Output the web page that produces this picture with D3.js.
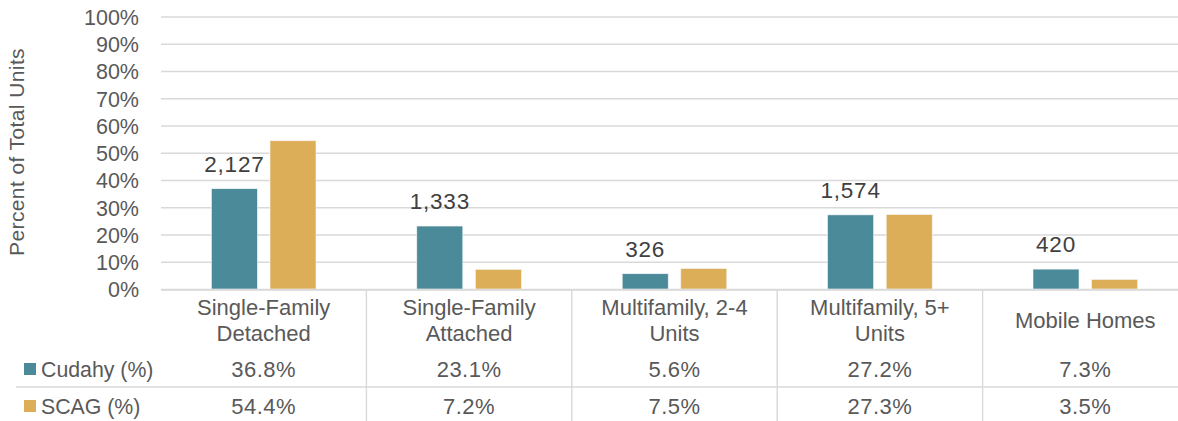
<!DOCTYPE html>
<html>
<head>
<meta charset="utf-8">
<script src="https://cdn.jsdelivr.net/npm/d3@7"></script>
<style>
  html, body { margin: 0; padding: 0; background: #fff; }
  svg { display: block; font-family: "Liberation Sans", Arial, sans-serif; }
</style>
</head>
<body>
<svg id="chart" width="1178" height="421"></svg>
<script>
const categories = [["Single-Family", "Detached"], ["Single-Family", "Attached"], ["Multifamily, 2-4", "Units"], ["Multifamily, 5+", "Units"], ["Mobile Homes"]];
const seriesNames = ["Cudahy (%)", "SCAG (%)"];
const cudahy = [36.8, 23.1, 5.6, 27.2, 7.3];
const scag = [54.4, 7.2, 7.5, 27.3, 3.5];
const unitCounts = ["2,127", "1,333", "326", "1,574", "420"];
const yTicks = [0, 10, 20, 30, 40, 50, 60, 70, 80, 90, 100];

const colors = ["#4a8a99", "#dcae57"];
const textColor = "#595959";
const gridColor = "#d9d9d9";

const svg = d3.select("#chart");
const W = 1178, H = 421;
svg.append("rect").attr("width", W).attr("height", H).attr("fill", "#fff");

const catIdx = d3.range(categories.length);
const x0 = d3.scaleBand().domain(catIdx).range([161, 1188]).paddingInner(0).paddingOuter(0);
const bw = x0.bandwidth();
const groupW = 104.6;
const x1 = d3.scaleBand().domain([0, 1]).range([bw / 2 - groupW / 2, bw / 2 + groupW / 2]).paddingInner(0.215).paddingOuter(0);
const y = d3.scaleLinear().domain([0, 100]).range([289, 16.5]);

// gridlines
const yAxis = d3.axisLeft(y).tickValues(yTicks).tickSize(-(1188 - 161)).tickFormat(d => d + "%").tickPadding(22);
const gAxis = svg.append("g").attr("transform", "translate(161,0)").call(yAxis);
gAxis.select(".domain").remove();
gAxis.selectAll(".tick line").attr("stroke", gridColor).attr("stroke-width", 1.4);
gAxis.selectAll(".tick text").attr("fill", textColor).style("font-size", "21.5px").style("font-family", "Liberation Sans, Arial, sans-serif").attr("dy", "0.36em");

// y axis title
svg.append("text")
  .attr("transform", "translate(24,152) rotate(-90)")
  .attr("text-anchor", "middle")
  .attr("fill", textColor)
  .style("font-size", "21px")
  .style("letter-spacing", "0.4px")
  .text("Percent of Total Units");

// bars
const data = catIdx.map(i => [cudahy[i], scag[i]]);
const groups = svg.append("g").selectAll("g").data(data).join("g")
  .attr("transform", (d, i) => `translate(${x0(i)},0)`);
groups.selectAll("rect").data(d => d).join("rect")
  .attr("x", (d, j) => x1(j))
  .attr("width", x1.bandwidth())
  .attr("y", d => y(d))
  .attr("height", d => y(0) - y(d))
  .attr("fill", (d, j) => colors[j])
  .attr("stroke", "#f4f4f4")
  .attr("stroke-width", 0.6);

// data labels
svg.append("g").selectAll("text").data(catIdx).join("text")
  .attr("x", i => x0(i) + x1(0) + x1.bandwidth() / 2)
  .attr("y", i => y(cudahy[i]) - 17)
  .attr("text-anchor", "middle")
  .attr("fill", "#404040")
  .style("font-size", "22.5px")
  .style("letter-spacing", "0.8px")
  .text(i => unitCounts[i]);

// axis baseline
svg.append("line").attr("x1", 161).attr("x2", W).attr("y1", 290).attr("y2", 290)
  .attr("stroke", gridColor).attr("stroke-width", 1.4);

// table dividers
catIdx.slice(1).forEach(i => {
  svg.append("line").attr("x1", x0(i)).attr("x2", x0(i)).attr("y1", 290).attr("y2", H)
    .attr("stroke", gridColor).attr("stroke-width", 1.4);
});
svg.append("line").attr("x1", 16).attr("x2", W).attr("y1", 387).attr("y2", 387)
  .attr("stroke", gridColor).attr("stroke-width", 1.4);

// category labels
const catG = svg.append("g").selectAll("text").data(catIdx).join("text")
  .attr("text-anchor", "middle")
  .attr("fill", textColor)
  .style("font-size", "22px")
  .attr("x", i => x0(i) + bw / 2)
  .attr("y", i => categories[i].length === 1 ? 320 : 307);
catG.each(function(i) {
  const t = d3.select(this);
  categories[i].forEach((line, k) => {
    t.append("tspan").attr("x", x0(i) + bw / 2).attr("dy", k === 0 ? "0.36em" : "26.5px").text(line);
  });
});

// table rows
const rows = [cudahy, scag];
const rowY = [369, 406];
rows.forEach((vals, r) => {
  svg.append("rect").attr("x", 24).attr("y", rowY[r] - 6).attr("width", 12).attr("height", 12).attr("fill", colors[r]);
  svg.append("text").attr("x", 41).attr("y", rowY[r]).attr("dy", "0.36em")
    .attr("fill", textColor).style("font-size", "21.3px").text(seriesNames[r]);
  svg.append("g").selectAll("text").data(catIdx).join("text")
    .attr("x", i => x0(i) + bw / 2)
    .attr("y", rowY[r])
    .attr("dy", "0.36em")
    .attr("text-anchor", "middle")
    .attr("fill", textColor)
    .style("font-size", "22px")
    .style("letter-spacing", "0.5px")
    .text(i => vals[i].toFixed(1) + "%");
});
</script>
</body>
</html>
